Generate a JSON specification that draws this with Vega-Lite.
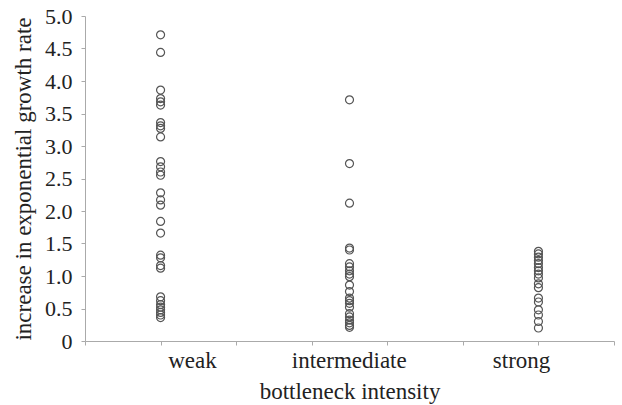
{
  "$schema": "https://vega.github.io/schema/vega-lite/v6.json",
  "width": 529,
  "height": 325,
  "autosize": {"type": "none"},
  "padding": {"left": 85, "top": 16, "right": 8, "bottom": 64},
  "background": "white",
  "config": {
    "view": {"stroke": null},
    "font": "Liberation Serif",
    "style": {
      "guide-label": {"font": "Liberation Serif", "fontSize": 23, "fill": "#222"},
      "guide-title": {"font": "Liberation Serif", "fontSize": 23, "fontWeight": "normal", "fill": "#222"}
    },
    "axis": {
      "labelFont": "Liberation Serif",
      "titleFont": "Liberation Serif",
      "labelFontSize": 23,
      "titleFontSize": 23,
      "titleFontWeight": "normal",
      "labelColor": "#222",
      "titleColor": "#222",
      "domainColor": "#aaa",
      "tickColor": "#aaa",
      "grid": false,
      "labelOverlap": false
    }
  },
  "data": {
    "values": [
      {"group": "weak", "x": 1, "rate": 4.71},
      {"group": "weak", "x": 1, "rate": 4.44},
      {"group": "weak", "x": 1, "rate": 3.86},
      {"group": "weak", "x": 1, "rate": 3.73},
      {"group": "weak", "x": 1, "rate": 3.68},
      {"group": "weak", "x": 1, "rate": 3.63},
      {"group": "weak", "x": 1, "rate": 3.36},
      {"group": "weak", "x": 1, "rate": 3.31},
      {"group": "weak", "x": 1, "rate": 3.27},
      {"group": "weak", "x": 1, "rate": 3.14},
      {"group": "weak", "x": 1, "rate": 2.76},
      {"group": "weak", "x": 1, "rate": 2.68},
      {"group": "weak", "x": 1, "rate": 2.6},
      {"group": "weak", "x": 1, "rate": 2.55},
      {"group": "weak", "x": 1, "rate": 2.28},
      {"group": "weak", "x": 1, "rate": 2.17},
      {"group": "weak", "x": 1, "rate": 2.09},
      {"group": "weak", "x": 1, "rate": 1.84},
      {"group": "weak", "x": 1, "rate": 1.66},
      {"group": "weak", "x": 1, "rate": 1.32},
      {"group": "weak", "x": 1, "rate": 1.28},
      {"group": "weak", "x": 1, "rate": 1.16},
      {"group": "weak", "x": 1, "rate": 1.12},
      {"group": "weak", "x": 1, "rate": 0.68},
      {"group": "weak", "x": 1, "rate": 0.62},
      {"group": "weak", "x": 1, "rate": 0.56},
      {"group": "weak", "x": 1, "rate": 0.52},
      {"group": "weak", "x": 1, "rate": 0.48},
      {"group": "weak", "x": 1, "rate": 0.44},
      {"group": "weak", "x": 1, "rate": 0.4},
      {"group": "weak", "x": 1, "rate": 0.36},
      {"group": "intermediate", "x": 3.5, "rate": 3.71},
      {"group": "intermediate", "x": 3.5, "rate": 2.73},
      {"group": "intermediate", "x": 3.5, "rate": 2.12},
      {"group": "intermediate", "x": 3.5, "rate": 1.43},
      {"group": "intermediate", "x": 3.5, "rate": 1.4},
      {"group": "intermediate", "x": 3.5, "rate": 1.19},
      {"group": "intermediate", "x": 3.5, "rate": 1.14},
      {"group": "intermediate", "x": 3.5, "rate": 1.08},
      {"group": "intermediate", "x": 3.5, "rate": 1.03},
      {"group": "intermediate", "x": 3.5, "rate": 0.99},
      {"group": "intermediate", "x": 3.5, "rate": 0.86},
      {"group": "intermediate", "x": 3.5, "rate": 0.76},
      {"group": "intermediate", "x": 3.5, "rate": 0.66},
      {"group": "intermediate", "x": 3.5, "rate": 0.62},
      {"group": "intermediate", "x": 3.5, "rate": 0.58},
      {"group": "intermediate", "x": 3.5, "rate": 0.52},
      {"group": "intermediate", "x": 3.5, "rate": 0.42},
      {"group": "intermediate", "x": 3.5, "rate": 0.37},
      {"group": "intermediate", "x": 3.5, "rate": 0.32},
      {"group": "intermediate", "x": 3.5, "rate": 0.28},
      {"group": "intermediate", "x": 3.5, "rate": 0.24},
      {"group": "intermediate", "x": 3.5, "rate": 0.21},
      {"group": "strong", "x": 6, "rate": 1.38},
      {"group": "strong", "x": 6, "rate": 1.34},
      {"group": "strong", "x": 6, "rate": 1.29},
      {"group": "strong", "x": 6, "rate": 1.24},
      {"group": "strong", "x": 6, "rate": 1.19},
      {"group": "strong", "x": 6, "rate": 1.13},
      {"group": "strong", "x": 6, "rate": 1.08},
      {"group": "strong", "x": 6, "rate": 1.03},
      {"group": "strong", "x": 6, "rate": 0.97},
      {"group": "strong", "x": 6, "rate": 0.88},
      {"group": "strong", "x": 6, "rate": 0.82},
      {"group": "strong", "x": 6, "rate": 0.66},
      {"group": "strong", "x": 6, "rate": 0.6},
      {"group": "strong", "x": 6, "rate": 0.48},
      {"group": "strong", "x": 6, "rate": 0.4},
      {"group": "strong", "x": 6, "rate": 0.3},
      {"group": "strong", "x": 6, "rate": 0.2}
    ]
  },
  "layer": [
    {
      "mark": {"type": "point", "shape": "circle", "filled": false, "size": 64, "stroke": "#555", "strokeWidth": 1.2, "opacity": 1},
      "encoding": {
        "x": {
          "field": "x", "type": "quantitative",
          "scale": {"domain": [0, 7], "nice": false, "zero": false},
          "axis": {"values": [0, 1, 2, 3, 4, 5, 6, 7], "labels": false, "title": null, "tickSize": 4, "orient": "bottom"}
        },
        "y": {
          "field": "rate", "type": "quantitative",
          "scale": {"domain": [0, 5], "nice": false},
          "axis": {
            "values": [0, 0.5, 1, 1.5, 2, 2.5, 3, 3.5, 4, 4.5, 5],
            "labelExpr": "datum.value == 0 ? '0' : format(datum.value, '.1f')",
            "labelOverlap": false,
            "labelFontSize": 22,
            "tickSize": 4,
            "labelPadding": 9,
            "title": "increase in exponential growth rate",
            "titlePadding": 9
          }
        }
      }
    },
    {
      "mark": {"type": "point", "opacity": 0},
      "encoding": {
        "x": {
          "field": "x", "type": "quantitative",
          "scale": {"domain": [0, 7], "nice": false, "zero": false},
          "axis": {
            "values": [1.415, 3.49, 5.77],
            "labelExpr": "datum.value < 2 ? 'weak' : datum.value < 4 ? 'intermediate' : 'strong'",
            "domain": false, "ticks": false, "orient": "bottom",
            "labelPadding": 8,
            "title": "bottleneck intensity",
            "titlePadding": 8
          }
        }
      }
    }
  ],
  "resolve": {"axis": {"x": "independent"}}
}
